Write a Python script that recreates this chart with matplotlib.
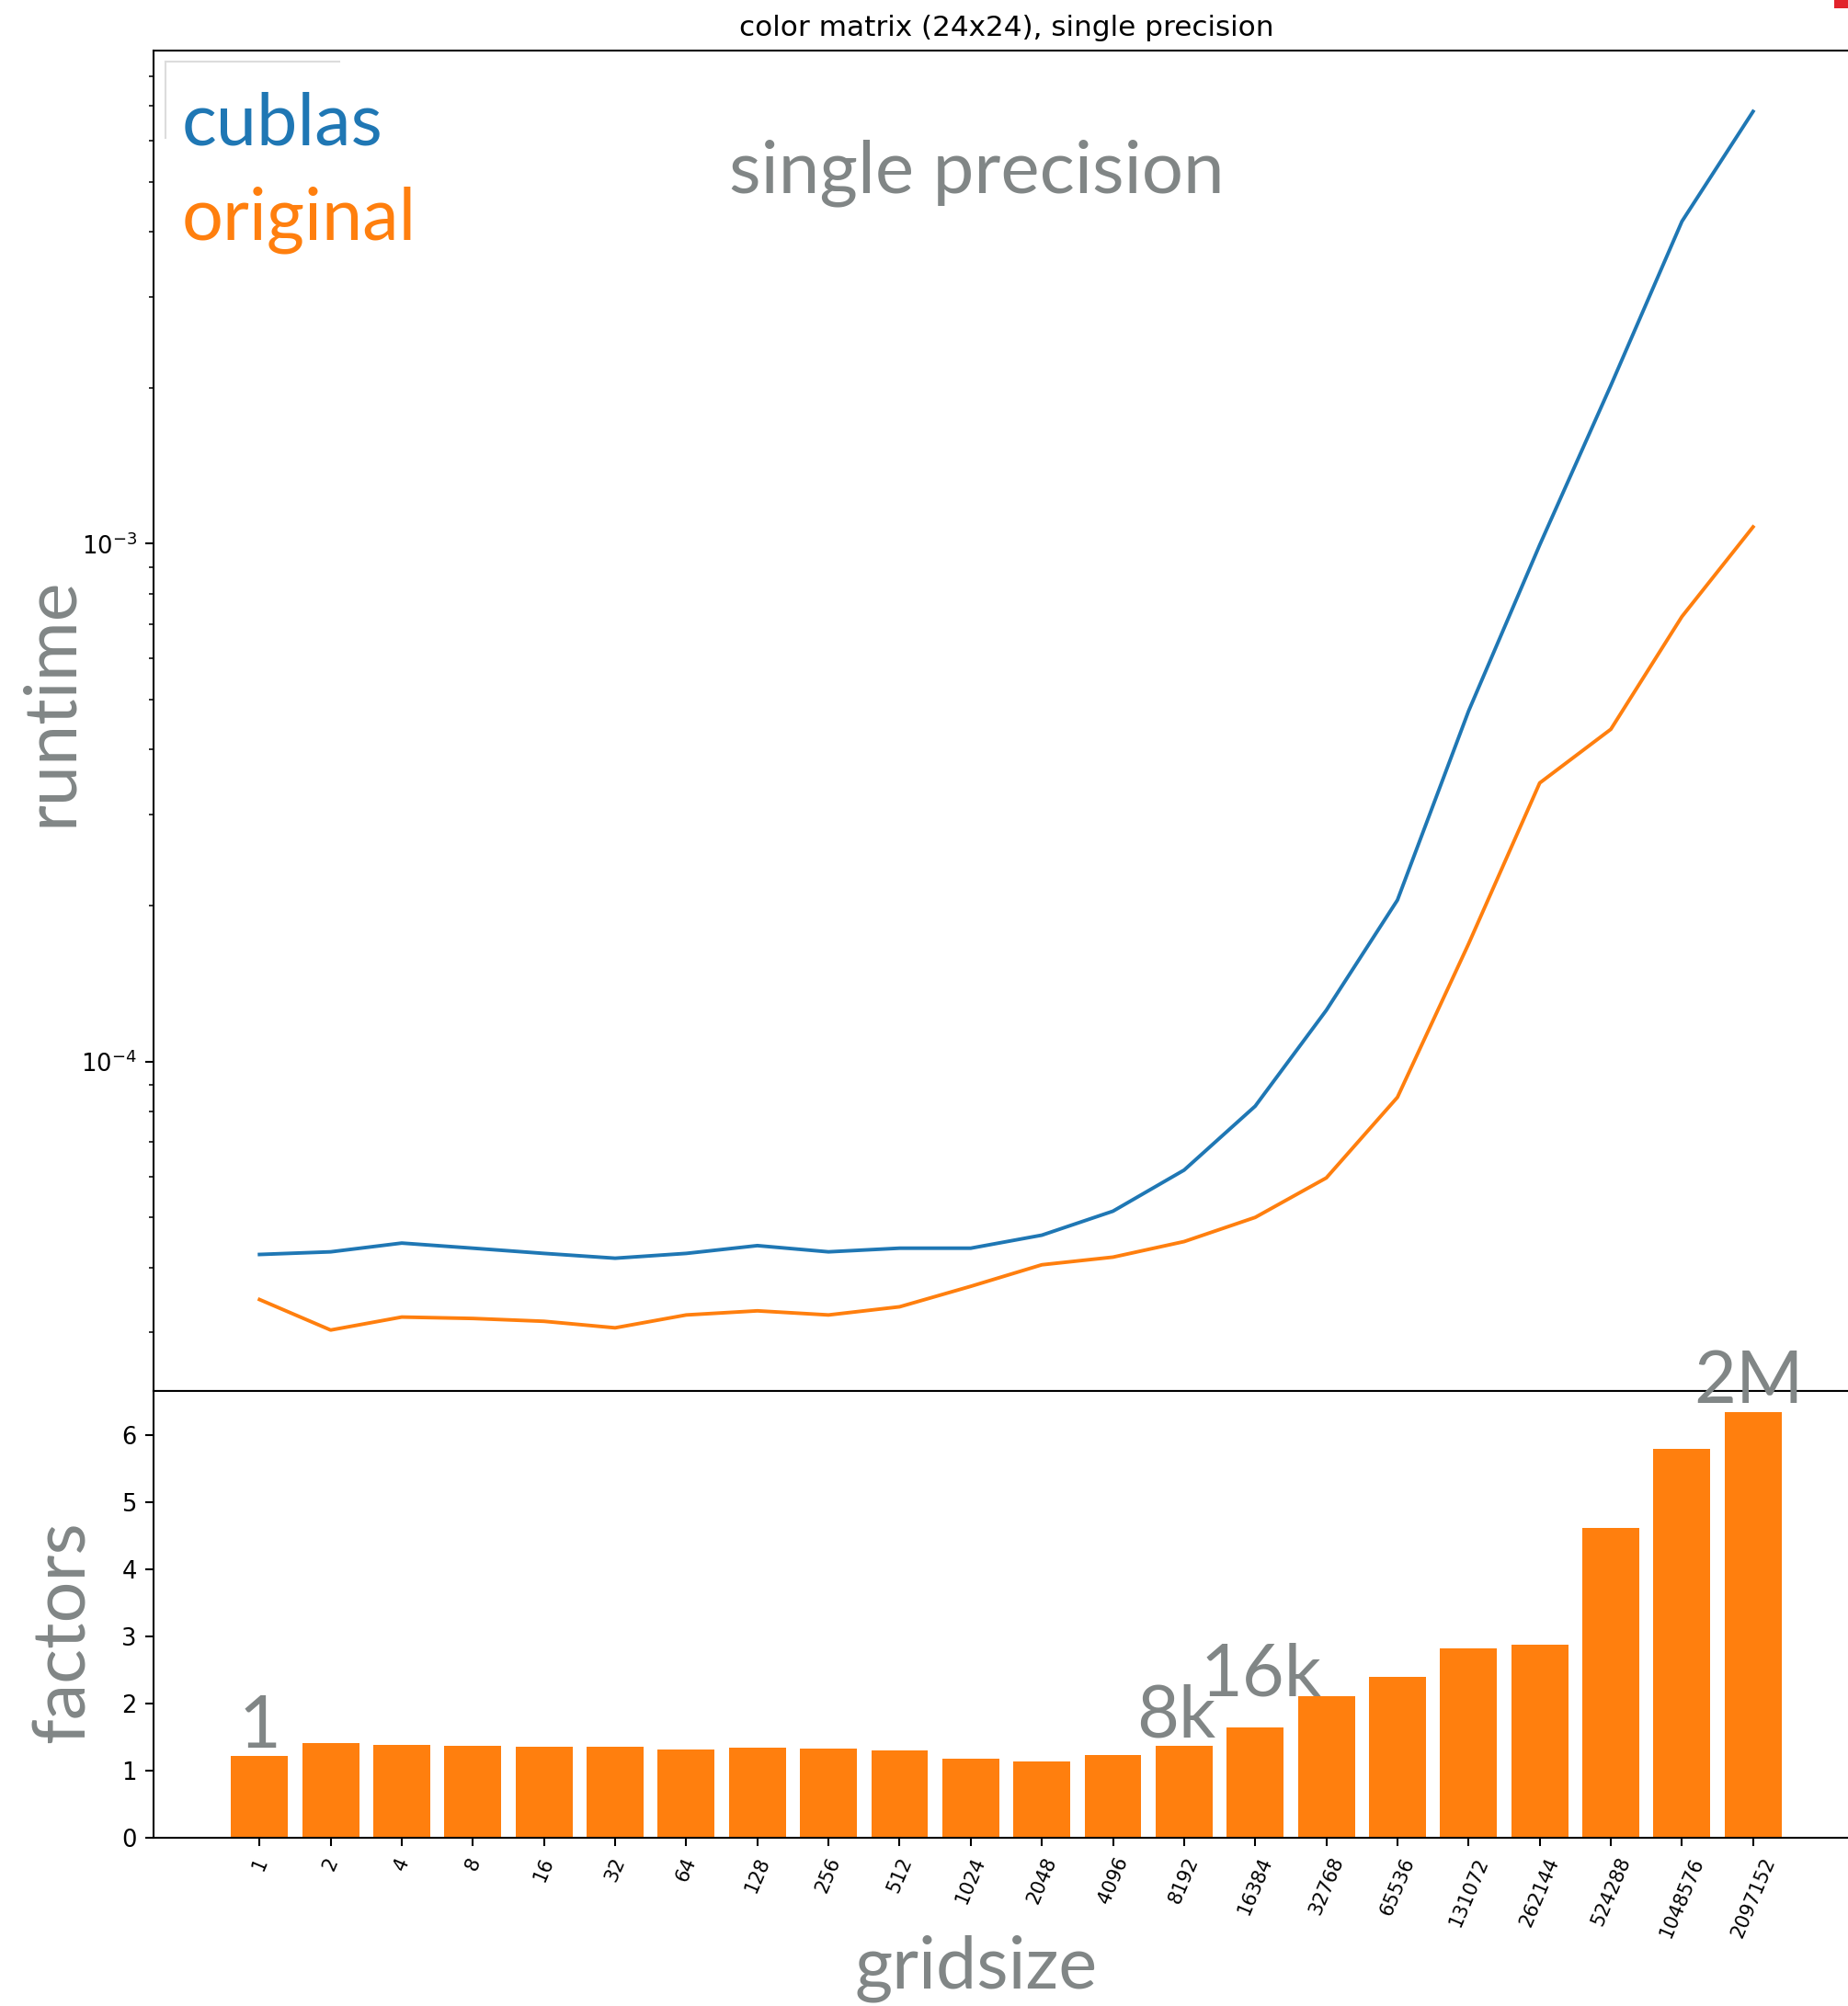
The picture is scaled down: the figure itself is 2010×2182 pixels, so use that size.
import matplotlib
matplotlib.use("Agg")
import matplotlib.pyplot as plt
from matplotlib.lines import Line2D
from matplotlib.patches import Rectangle

# ---- data -------------------------------------------------------------
gridsize_labels = ["1", "2", "4", "8", "16", "32", "64", "128", "256", "512",
                   "1024", "2048", "4096", "8192", "16384", "32768", "65536",
                   "131072", "262144", "524288", "1048576", "2097152"]

cublas_runtime = [4.24e-5, 4.29e-5, 4.46e-5, 4.36e-5, 4.26e-5, 4.17e-5,
                  4.26e-5, 4.41e-5, 4.29e-5, 4.36e-5, 4.36e-5, 4.62e-5,
                  5.14e-5, 6.17e-5, 8.20e-5, 1.256e-4, 2.05e-4, 4.75e-4,
                  9.94e-4, 2.02e-3, 4.19e-3, 6.83e-3]

original_runtime = [3.47e-5, 3.03e-5, 3.21e-5, 3.19e-5, 3.15e-5, 3.06e-5,
                    3.24e-5, 3.30e-5, 3.24e-5, 3.36e-5, 3.68e-5, 4.05e-5,
                    4.19e-5, 4.49e-5, 5.00e-5, 5.96e-5, 8.53e-5, 1.687e-4,
                    3.45e-4, 4.38e-4, 7.23e-4, 1.077e-3]

# speed-up of the original kernel over cublas
factors = [c / o for c, o in zip(cublas_runtime, original_runtime)]

# gridsizes called out above their bars
callouts = {"1": "1", "8192": "8k", "16384": "16k", "2097152": "2M"}

# ---- style ------------------------------------------------------------
S = 1.87                      # scale of the line art relative to defaults
W, H = 2010, 2182
BLUE, ORANGE = "#1f77b4", "#ff7f0e"
GRAY = "#818686"
BIG = 57

plt.rcParams.update({
    "font.family": ["DejaVu Sans"],
    "axes.linewidth": 0.8 * S,
    "lines.linewidth": 1.5 * S,
    "xtick.major.size": 3.5 * S, "ytick.major.size": 3.5 * S,
    "xtick.major.width": 0.8 * S, "ytick.major.width": 0.8 * S,
    "xtick.minor.size": 2 * S, "ytick.minor.size": 2 * S,
    "xtick.minor.width": 0.6 * S, "ytick.minor.width": 0.6 * S,
    "xtick.major.pad": 3.5 * S, "ytick.major.pad": 3.5 * S,
    "xtick.labelsize": 15, "ytick.labelsize": 18.5,
})

fig = plt.figure(figsize=(W / 100, H / 100), dpi=100)


def px(x, y):
    """pixel position (from top-left) -> figure fraction"""
    return x / W, 1 - y / H


left, right = 167 / W, 2022 / W
ax_top = fig.add_axes([left, 1 - 1513 / H, right - left, (1513 - 55) / H])
ax_bot = fig.add_axes([left, 1 - 1999 / H, right - left, (1999 - 1513) / H],
                      sharex=ax_top)

xs = list(range(len(gridsize_labels)))

# ---- runtimes ---------------------------------------------------------
ax_top.plot(xs, cublas_runtime, color=BLUE, label="cublas")
ax_top.plot(xs, original_runtime, color=ORANGE, label="original")
ax_top.set_yscale("log")
ax_top.tick_params(axis="x", which="both", bottom=False, labelbottom=False)
ax_top.set_title("color matrix (24x24), single precision", fontsize=12 * S,
                 pad=6 * S)

# ---- factors ----------------------------------------------------------
ax_bot.bar(xs, factors, color=ORANGE, width=0.8)
ax_bot.set_xticks(xs)
ax_bot.set_xticklabels(gridsize_labels, rotation=67)

offsets = {"1": (0, 6.5), "8k": (-6.5, 6.5), "16k": (4.3, 25), "2M": (-3.6, 7)}
for i, g in enumerate(gridsize_labels):
    if g in callouts:
        txt = callouts[g]
        ax_bot.annotate(txt, xy=(i, factors[i]), xytext=offsets[txt],
                        textcoords="offset points", ha="center",
                        va="baseline", fontsize=BIG, color=GRAY,
                        family="Lato", annotation_clip=False, zorder=5)

# ---- slide lettering --------------------------------------------------
fig.text(*px(198, 158), "cublas", color=BLUE, fontsize=BIG, family="Lato",
         ha="left", va="baseline")
fig.text(*px(198, 260), "original", color=ORANGE, fontsize=BIG,
         family="Lato", ha="left", va="baseline")
fig.text(*px(1062, 209), "single precision", color=GRAY, fontsize=57.5,
         family="Lato", ha="center", va="baseline")
fig.text(*px(78, 763), "runtime", color=GRAY, fontsize=BIG, family="Lato",
         rotation=90, rotation_mode="anchor", ha="center", va="baseline")
fig.text(*px(92, 1775), "factors", color=GRAY, fontsize=BIG, family="Lato",
         rotation=90, rotation_mode="anchor", ha="center", va="baseline")
fig.text(*px(1062, 2162), "gridsize", color=GRAY, fontsize=BIG,
         family="Lato", ha="center", va="baseline")

# corner of the legend frame left showing under the lettering
fx0, fy0 = px(180, 67)
fx1, _ = px(369, 67)
_, fy1 = px(180, 150)
fig.add_artist(Line2D([fx0, fx1], [fy0, fy0], color="#dcdcdc", lw=1.5,
                      transform=fig.transFigure))
fig.add_artist(Line2D([fx0, fx0], [fy0, fy1], color="#dcdcdc", lw=1.5,
                      transform=fig.transFigure))

# small red marker in the top-right corner
rx, ry = px(1995, 9)
fig.add_artist(Rectangle((rx, ry), 15 / W, 9 / H, color="#e2232b",
                         transform=fig.transFigure, lw=0))

fig.savefig("out.png", dpi=100)
